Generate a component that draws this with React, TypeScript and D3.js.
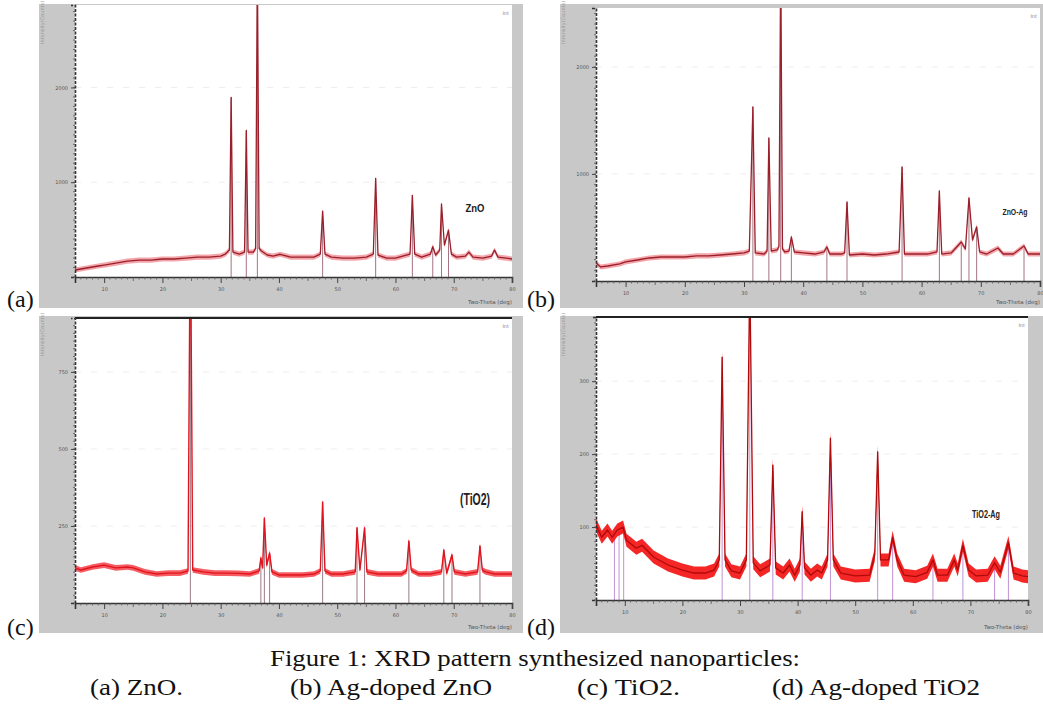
import React, { useEffect, useRef } from "react";
import * as d3 from "d3";

const W = 1043;
const H = 713;

// 2-theta axis (deg)
const twoThetaDomain: [number, number] = [5, 80];
const twoThetaTicks = [10, 20, 30, 40, 50, 60, 70, 80];

// (a) ZnO  [2theta, counts]
const znoCounts: [number, number][] = [
  [5, 74], [7, 95], [9, 116], [10, 126], [12, 147], [14, 168], [16, 179], [18, 179],
  [20, 190], [22, 190], [24, 200], [26, 210], [28, 210], [30, 221], [30.8, 242], [31.5, 284],
  [31.8, 1895], [32.1, 263], [33.2, 242], [34.1, 263], [34.4, 1547], [34.7, 263], [35.6, 263],
  [36.0, 300], [36.3, 3300], [36.6, 300], [37.0, 274], [38, 232], [39, 221], [40.2, 240], [42, 210],
  [44, 210], [46, 210], [47.1, 242], [47.5, 695], [47.9, 242], [49, 210], [51, 200], [53, 200],
  [55, 210], [56.2, 242], [56.6, 1040], [57.0, 232], [58.5, 200], [60, 200], [62.5, 242],
  [62.9, 860], [63.3, 242], [64.5, 210], [66.0, 242], [66.4, 320], [66.9, 232], [67.6, 284],
  [67.9, 770], [68.4, 337], [69.1, 495], [69.6, 242], [70.5, 210], [72.0, 221], [72.6, 263],
  [73.3, 210], [75, 200], [76.5, 221], [77.0, 284], [77.6, 210], [79, 200], [80, 190],
];
const znoSticks = [31.8, 34.4, 36.3, 47.5, 56.6, 62.9, 66.4, 67.9, 69.1];
const znoYTicks = [1000, 2000];

// (b) Ag-doped ZnO
const znoAgCounts: [number, number][] = [
  [5, 168], [5.8, 131], [7, 140], [9, 159], [10, 178], [12, 196], [14, 215], [16, 224],
  [18, 224], [20, 224], [22, 234], [24, 234], [26, 243], [28, 252], [30, 262], [30.9, 280],
  [31.5, 1626], [31.9, 262], [33.4, 252], [33.9, 280], [34.2, 1336], [34.6, 280], [35.6, 290],
  [35.9, 320], [36.2, 3000], [36.5, 300], [36.9, 271], [37.6, 280], [38.0, 411], [38.5, 271],
  [40, 262], [42, 252], [43.5, 271], [44.0, 318], [44.5, 252], [46.5, 252], [47.0, 262],
  [47.4, 738], [47.8, 243], [50, 252], [52, 243], [54, 252], [56.2, 271], [56.7, 1065],
  [57.1, 252], [59, 252], [61, 252], [62.6, 271], [63.0, 841], [63.4, 252], [65, 262],
  [66.7, 364], [67.4, 299], [68.0, 776], [68.6, 383], [69.3, 505], [69.8, 271], [71, 252],
  [72.9, 308], [73.8, 252], [75.5, 252], [77.3, 327], [78, 252], [80, 252],
];
const znoAgSticks = [31.5, 34.2, 36.2, 38.0, 44.0, 47.4, 56.7, 63.0, 66.7, 68.0, 69.3, 77.3];
const znoAgYTicks = [1000, 2000];

// (c) TiO2
const tio2Counts: [number, number][] = [
  [5, 114], [6, 107], [8, 117], [10, 123], [12, 114], [14, 117], [15, 114], [17, 101],
  [19, 94], [21, 97], [23, 97], [24.4, 104], [24.8, 1300], [25.2, 107], [27, 101], [29, 97],
  [31, 97], [33, 96], [35, 94], [36.6, 104], [36.9, 146], [37.2, 114], [37.5, 276], [37.9, 123],
  [38.4, 162], [38.8, 101], [40, 91], [42, 91], [44, 91], [46, 94], [47.1, 104], [47.5, 328],
  [47.9, 104], [49, 94], [51, 94], [53.1, 101], [53.4, 244], [53.9, 107], [54.7, 244],
  [55.1, 101], [57, 94], [59, 94], [61, 94], [61.9, 104], [62.3, 201], [62.7, 107], [64, 94],
  [66, 94], [67.9, 101], [68.3, 172], [68.8, 97], [69.7, 156], [70.1, 101], [72, 94],
  [74.1, 101], [74.5, 185], [74.9, 107], [75.5, 101], [77, 94], [80, 94],
];
const tio2Sticks = [24.8, 36.9, 37.5, 38.4, 47.5, 53.4, 54.7, 62.3, 68.3, 69.7, 74.5];
const tio2YTicks = [250, 500, 750];

// (d) Ag-doped TiO2
const tio2AgCounts: [number, number][] = [
  [5, 103], [6, 86], [7, 96], [7.8, 86], [8.7, 96], [9.7, 100], [10.3, 82], [12, 71], [13, 75],
  [15, 59], [17.5, 48], [20, 41], [22, 37], [24, 37], [25.5, 41], [26.4, 55], [26.9, 333],
  [27.4, 55], [28.5, 40], [30, 37], [31.1, 55], [31.7, 450], [32.3, 51], [33.5, 40], [35.2, 48],
  [35.7, 185], [36.2, 44], [37.5, 37], [38.6, 48], [39.5, 34], [40.4, 48], [40.8, 121],
  [41.2, 44], [42.3, 34], [43.4, 41], [44.2, 37], [45.2, 55], [45.7, 222], [46.2, 55],
  [47.5, 37], [50, 33], [52.5, 34], [53.4, 62], [53.9, 203], [54.4, 55], [55.8, 55], [56.5, 86],
  [57.3, 55], [58.5, 34], [60.5, 32], [62.5, 38], [63.5, 55], [64.3, 34], [66, 34], [67.2, 55],
  [67.8, 41], [68.7, 75], [69.7, 41], [71, 33], [73, 34], [74.2, 51], [75.2, 38], [76.6, 79],
  [77.5, 37], [79, 33], [80, 32],
];
const tio2AgSticks = [8.2, 9.0, 9.8, 26.9, 31.7, 35.7, 40.8, 45.7, 53.9, 56.5, 63.5, 68.7, 74.2, 76.6];
const tio2AgYTicks = [100, 200, 300];

const captionTitle = "Figure 1: XRD pattern synthesized nanoparticles:";
const captionParts = ["(a) ZnO.", "(b) Ag-doped ZnO", "(c) TiO2.", "(d) Ag-doped TiO2"];

const SERIF = "Liberation Serif, Times New Roman, Tinos, Times, serif";
const SANS = "DejaVu Sans, sans-serif";
const SANS_BOLD = "Liberation Sans, Arial, sans-serif";

type Panel = {
  tag: string;
  name: string;
  frame: [number, number, number, number];
  plot: [number, number, number, number]; // x0, x1, yTop, yBottom
  yMax: number;
  yTicks: number[];
  minorStep: number;
  data: [number, number][];
  sticks: number[];
  topLine: boolean;
  halo: string; band: number; core: string; coreW: number; stick: string;
  nameAt: [number, number]; nameSize: number; nameW: number;
  tagAt: [number, number];
};

const panels: Panel[] = [
  {
    tag: "(a)", name: "ZnO", frame: [39, 4, 484, 304], plot: [75, 512, 5, 277],
    yMax: 2870, yTicks: znoYTicks, minorStep: 100, data: znoCounts, sticks: znoSticks, topLine: false,
    halo: "#f2a0a5", band: 2.6, core: "#9a1f2a", coreW: 1.3, stick: "#8a4a5c",
    nameAt: [475, 212], nameSize: 10, nameW: 19, tagAt: [7, 307],
  },
  {
    tag: "(b)", name: "ZnO-Ag", frame: [560, 4, 500, 304], plot: [596, 1040, 8, 281],
    yMax: 2550, yTicks: znoAgYTicks, minorStep: 100, data: znoAgCounts, sticks: znoAgSticks, topLine: false,
    halo: "#f2a0a5", band: 2.6, core: "#9a1f2a", coreW: 1.3, stick: "#8a4a5c",
    nameAt: [1015, 215], nameSize: 9, nameW: 25, tagAt: [527, 307],
  },
  {
    tag: "(c)", name: "(TiO2)", frame: [39, 316, 484, 317], plot: [75, 512, 318, 603],
    yMax: 925, yTicks: tio2YTicks, minorStep: 25, data: tio2Counts, sticks: tio2Sticks, topLine: true,
    halo: "#f4545b", band: 2.8, core: "#e0141e", coreW: 1.4, stick: "#7a5560",
    nameAt: [475, 505], nameSize: 16, nameW: 30, tagAt: [7, 635],
  },
  {
    tag: "(d)", name: "TiO2-Ag", frame: [560, 316, 500, 317], plot: [596, 1028, 317, 600],
    yMax: 388, yTicks: tio2AgYTicks, minorStep: 10, data: tio2AgCounts, sticks: tio2AgSticks, topLine: true,
    halo: "#f41a1a", band: 6.5, core: "#b00a0a", coreW: 1.3, stick: "#b070c8",
    nameAt: [986, 518], nameSize: 10, nameW: 28, tagAt: [527, 635],
  },
];

function drawPanel(root: d3.Selection<SVGGElement, unknown, null, undefined>, p: Panel, i: number) {
  const [fx, fy, fw, fh] = p.frame;
  const [x0, x1, yT, yB] = p.plot;
  const g = root.append("g");

  g.append("rect").attr("x", fx).attr("y", fy).attr("width", fw).attr("height", fh).attr("fill", "#c8c8c8");
  g.append("rect").attr("x", x0).attr("y", yT).attr("width", x1 - x0).attr("height", yB - yT).attr("fill", "#ffffff");

  const x = d3.scaleLinear().domain(twoThetaDomain).range([x0, x1]);
  const y = d3.scaleLinear().domain([0, p.yMax]).range([yB, yT]);

  // faint grid at labelled counts
  p.yTicks.forEach((t) => {
    g.append("line").attr("x1", x0).attr("x2", x1).attr("y1", y(t)).attr("y2", y(t))
      .attr("stroke", "#ededed").attr("stroke-dasharray", "6,10");
  });

  const clipId = `clip-${i}`;
  g.append("clipPath").attr("id", clipId).append("rect")
    .attr("x", x0).attr("y", yT).attr("width", x1 - x0).attr("height", yB - yT);
  const inner = g.append("g").attr("clip-path", `url(#${clipId})`);

  // reference sticks
  p.sticks.forEach((s) => {
    const near = p.data.reduce((a, b) => (Math.abs(b[0] - s) < Math.abs(a[0] - s) ? b : a));
    inner.append("line").attr("x1", x(s)).attr("x2", x(s)).attr("y1", yB).attr("y2", y(near[1]))
      .attr("stroke", p.stick).attr("stroke-width", 0.9).attr("opacity", 0.85);
  });

  // scatter band of the measured pattern, then its centre line
  const band = d3.area<[number, number]>().x((d) => x(d[0]))
    .y0((d) => y(d[1]) + p.band).y1((d) => y(d[1]) - p.band);
  inner.append("path").attr("d", band(p.data)).attr("fill", p.halo).attr("opacity", 0.95);
  const line = d3.line<[number, number]>().x((d) => x(d[0])).y((d) => y(d[1]));
  inner.append("path").attr("d", line(p.data)).attr("fill", "none")
    .attr("stroke", p.core).attr("stroke-width", p.coreW).attr("stroke-linejoin", "round");

  if (p.topLine) {
    g.append("line").attr("x1", x0).attr("x2", x1).attr("y1", yT).attr("y2", yT)
      .attr("stroke", "#222").attr("stroke-width", 2);
  }

  // x axis
  const xa = g.append("g").attr("transform", `translate(0,${yB})`)
    .call(d3.axisBottom(x).tickValues(twoThetaTicks).tickSize(6).tickFormat((d) => `${d}`));
  xa.select(".domain").attr("stroke", "#333").attr("stroke-width", 1.6);
  xa.selectAll(".tick line").attr("stroke", "#444");
  xa.selectAll(".tick text").attr("font-size", 5).attr("fill", "#555").attr("dy", "0.9em")
    .style("font-family", SANS);
  d3.range(6, 80, 1).filter((v) => v % 10 !== 0).forEach((v) => {
    g.append("line").attr("x1", x(v)).attr("x2", x(v)).attr("y1", yB).attr("y2", yB + (v % 5 === 0 ? 4 : 2.5))
      .attr("stroke", "#555").attr("stroke-width", 0.8);
  });

  // y axis
  const ya = g.append("g").attr("transform", `translate(${x0},0)`)
    .call(d3.axisLeft(y).tickValues(p.yTicks).tickSize(4).tickFormat((d) => `${d}`));
  ya.select(".domain").attr("stroke", "#333").attr("stroke-width", 1.6).attr("stroke-dasharray", "3,1.5");
  ya.selectAll(".tick line").attr("stroke", "#444");
  ya.selectAll(".tick text").attr("font-size", 5).attr("fill", "#555").style("font-family", SANS);
  d3.range(0, p.yMax, p.minorStep).forEach((v) => {
    g.append("line").attr("x1", x0 - 2).attr("x2", x0).attr("y1", y(v)).attr("y2", y(v))
      .attr("stroke", "#555").attr("stroke-width", 0.8);
  });

  g.append("text").attr("transform", `translate(${fx + 5},${fy + 40}) rotate(-90)`)
    .attr("font-size", 5).attr("fill", "#9a9a9a").style("font-family", SANS).text("Intensity(Counts)");
  g.append("text").attr("x", x1).attr("y", fy + fh - 4).attr("text-anchor", "end")
    .attr("font-size", 5.5).attr("fill", "#555").style("font-family", SANS).text("Two-Theta (deg)");
  g.append("text").attr("x", x1 - 3).attr("y", yT + 10).attr("text-anchor", "end")
    .attr("font-size", 5).attr("fill", "#888").style("font-family", SANS).text("Int");

  g.append("text").attr("x", p.nameAt[0] - p.nameW / 2).attr("y", p.nameAt[1])
    .attr("font-size", p.nameSize).attr("font-weight", "bold").attr("fill", "#222")
    .attr("textLength", p.nameW).attr("lengthAdjust", "spacingAndGlyphs")
    .style("font-family", SANS_BOLD).text(p.name);

  root.append("text").attr("x", p.tagAt[0]).attr("y", p.tagAt[1])
    .attr("font-size", 24).attr("fill", "#111").style("font-family", SERIF).text(p.tag);
}

export default function App() {
  const svgRef = useRef<SVGSVGElement>(null);

  useEffect(() => {
    const svg = d3.select(svgRef.current);
    svg.selectAll("*").remove();
    const root = svg.append("g");
    panels.forEach((p, i) => drawPanel(root as any, p, i));

    root.append("text").attr("x", 535).attr("y", 666).attr("text-anchor", "middle")
      .attr("font-size", 23).style("font-family", SERIF).attr("fill", "#111")
      .attr("textLength", 530).attr("lengthAdjust", "spacingAndGlyphs").text(captionTitle);
    const partX = [90, 290, 577, 772];
    const partW = [93, 202, 103, 208];
    captionParts.forEach((t, i) => {
      root.append("text").attr("x", partX[i]).attr("y", 695)
        .attr("font-size", 23).style("font-family", SERIF).attr("fill", "#111")
        .attr("textLength", partW[i]).attr("lengthAdjust", "spacingAndGlyphs").text(t);
    });
  }, []);

  return (
    <svg ref={svgRef} width={W} height={H}
      style={{ position: "absolute", left: 0, top: 0, background: "#ffffff" }} />
  );
}
